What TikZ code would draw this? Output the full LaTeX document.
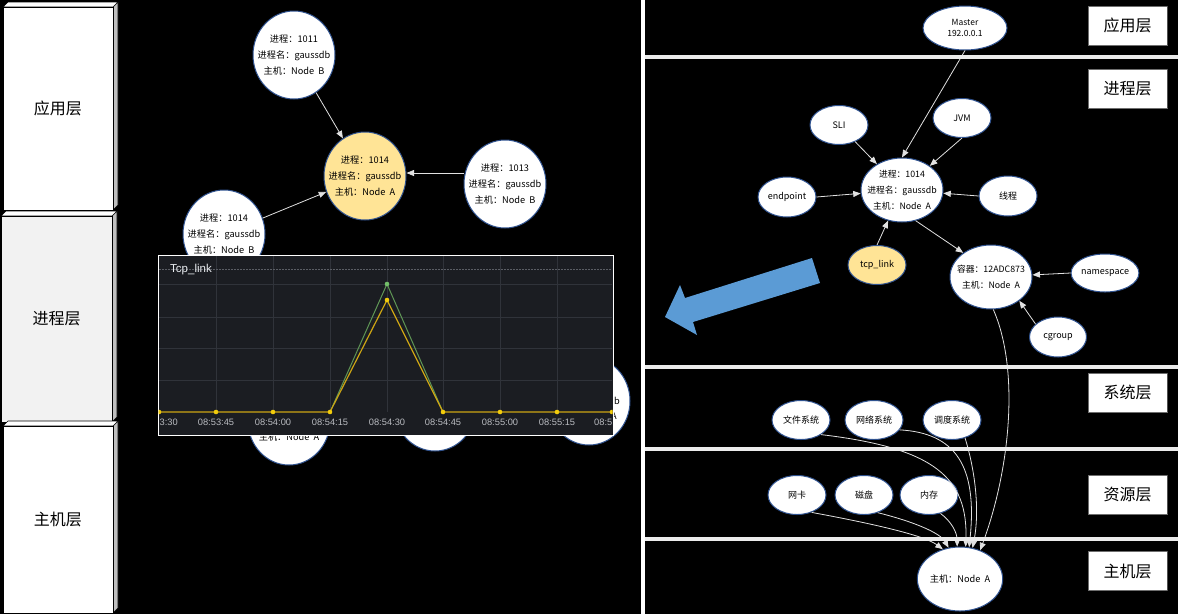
\documentclass[tikz,border=0pt]{standalone}
\usepackage{fontspec}
\setmainfont{Noto Sans CJK SC}
\newfontfamily\chartfont{Liberation Sans}
\usetikzlibrary{shapes.geometric,arrows.meta}
\definecolor{nborder}{RGB}{47,82,143}
\definecolor{nyellow}{RGB}{255,228,150}
\definecolor{sidegray}{RGB}{191,191,191}
\definecolor{frontgray}{RGB}{242,242,242}
\definecolor{edgec}{RGB}{225,225,225}
\definecolor{barc}{RGB}{235,235,235}
\definecolor{chartbg}{RGB}{27,29,34}
\definecolor{gridc}{RGB}{48,51,58}
\definecolor{dashc}{RGB}{90,93,100}
\definecolor{ylinec}{RGB}{205,165,20}
\definecolor{ydotc}{RGB}{242,204,12}
\definecolor{glinec}{RGB}{95,150,85}
\definecolor{gdotc}{RGB}{115,191,105}
\definecolor{clabelc}{RGB}{185,187,192}
\definecolor{titlec}{RGB}{235,238,242}
\definecolor{arrowblue}{RGB}{91,155,213}
\definecolor{lboxc}{RGB}{110,110,110}
\definecolor{shadowc}{RGB}{80,80,80}
\newcommand\drawlayerbox[7]{%
  \filldraw[fill=sidegray,draw=black,line width=0.6pt] (#3,#2) -- (#3+5,#2-5) -- (#3+5,#4-5) -- (#3,#4) -- cycle;
  \filldraw[fill=white,draw=black,line width=0.6pt] (#1,#2) -- (#1+5,#2-5) -- (#3+5,#2-5) -- (#3,#2) -- cycle;
  \filldraw[fill=#5,draw=black,line width=0.8pt] (#1,#2) rectangle (#3,#4);
  \node[font=\fontsize{16}{18}\selectfont] (#7) at ({(#1+#3)/2},{(#2+#4)/2}) {#6};}
\tikzset{
  lnode/.style={ellipse, draw=nborder, line width=1pt, fill=white, minimum width=82pt, minimum height=88pt, inner sep=0pt},
  ltext/.style={align=center, font=\fontsize{9.2}{16}\selectfont, text=black, inner sep=0pt},
  rnode/.style={ellipse, draw=nborder, line width=1pt, fill=white, minimum width=58pt, minimum height=39pt, inner sep=0pt, font=\fontsize{9}{10}\selectfont},
  rbig/.style={ellipse, draw=nborder, line width=1pt, fill=white, minimum width=82pt, minimum height=64pt, inner sep=0pt},
  rtext/.style={align=center, font=\fontsize{8.8}{16}\selectfont, text=black, inner sep=0pt},
  edge/.style={draw=edgec, line width=0.8pt, -{Triangle[length=7.5pt,width=6pt]}},
  lbox/.style={rectangle, fill=white, draw=lboxc, line width=0.6pt, minimum width=79pt, minimum height=39pt, inner sep=0pt, font=\fontsize{16}{18}\selectfont},
  clabel/.style={font=\chartfont\fontsize{9.3}{10}\selectfont, text=clabelc, inner sep=0pt},
}
\begin{document}
\begin{tikzpicture}[x=1pt,y=-1pt]
\useasboundingbox (0,0) rectangle (1178,614);
\fill[black] (0,0) rectangle (1178,614);

% ---------------- left layer boxes
\drawlayerbox{3}{7}{113}{210}{white}{应用层}{lb1}
\drawlayerbox{1}{216}{112}{422}{frontgray}{进程层}{lb2}
\drawlayerbox{3}{426}{113}{613}{white}{主机层}{lb3}

% ---------------- left graph
\node[lnode, label={[ltext]center:进程：1011\\进程名：gaussdb\\主机：Node~ B}] (n1011) at (294,55) {};
\node[lnode, fill=nyellow, label={[ltext]center:进程：1014\\进程名：gaussdb\\主机：Node~ A}] (yl) at (365,176) {};
\node[lnode, label={[ltext]center:进程：1014\\进程名：gaussdb\\主机：Node~ B}] (n1014b) at (224,234) {};
\node[lnode, label={[ltext]center:进程：1013\\进程名：gaussdb\\主机：Node~ B}] (n1013) at (505,184) {};
\node[lnode, label={[ltext,yshift=-16pt]center:主机：Node~ A}] (h1) at (289,421) {};
\node[lnode] (h2) at (435,407) {};
\node[lnode] (h3) at (589,401) {};
\begin{scope}
\clip (613,380) rectangle (640,430);
\node[ltext, anchor=east] (h3t) at (620,401) {db};
\node[ltext, anchor=east] (h3u) at (617,416) {A};
\end{scope}

\draw[edge] (n1011) -- (yl);
\draw[edge] (n1014b) -- (yl);
\draw[edge] ([yshift=11pt]n1013.west) -- ([yshift=3pt]yl.east);

% ---------------- chart
\filldraw[fill=chartbg, draw=white, line width=1pt] (158,255) rectangle (613,435);
\begin{scope}
\clip (158.5,255.5) rectangle (612.5,434.5);
\foreach \x in {216,273,330,387,443,500,557} \draw[gridc, line width=0.7pt] (\x,256) -- (\x,412);
\foreach \y in {284,317,348,380} \draw[gridc, line width=0.7pt] (159,\y) -- (612,\y);
\draw[dashc, line width=0.8pt, dash pattern=on 1.5pt off 1.5pt] (159,269) -- (612,269);
\draw[glinec, line width=1pt] (330,412) -- (387,284) -- (443,412);
\draw[ylinec, line width=1.2pt] (158,412) -- (330,412) -- (387,300) -- (443,412) -- (613,412);
\foreach \x in {159,216,273,330,443,500,557,612} \fill[ydotc] (\x,412) circle (2.3pt);
\fill[ydotc] (387,300) circle (2.3pt);
\fill[gdotc] (387,284) circle (2.3pt);
\foreach \x/\t in {216/08:53:45,273/08:54:00,330/08:54:15,387/08:54:30,443/08:54:45,500/08:55:00,557/08:55:15}
  \node[clabel] (tl\x) at (\x,422) {\t};
\node[clabel, anchor=west] (tlfirst) at (159.5,422) {3:30};
\node[clabel, anchor=east] (tllast) at (612.5,422) {08:5};
\end{scope}
\node[anchor=west, font=\chartfont\fontsize{11.5}{12}\selectfont, text=titlec, inner sep=0pt] (ttl) at (170,270) {Tcp\_link};

% ---------------- divider
\fill[white] (640.5,0) rectangle (644.5,614);

% ---------------- big blue arrow
\fill[arrowblue] (665,317) -- (680,285) -- (685,298) -- (812,258) -- (820,283) -- (693,322) -- (697,335) -- cycle;

% ---------------- right nodes
\node[rnode, minimum width=84pt, minimum height=44pt, align=center, font=\fontsize{8.5}{11}\selectfont] (master) at (965,28) {Master\\192.0.0.1};
\node[rnode] (sli) at (839,125) {SLI};
\node[rnode] (jvm) at (962,118) {JVM};
\node[rbig, label={[rtext]center:进程：1014\\进程名：gaussdb\\主机：Node~ A}] (c1014) at (902,190) {};
\node[rnode, minimum height=40pt] (endp) at (787,197) {endpoint};
\node[rnode, minimum height=40pt] (xc) at (1008,196) {线程};
\node[rnode, fill=nyellow] (tcp) at (877,265) {tcp\_link};
\node[rbig, label={[rtext]center:容器：12ADC873\\主机：Node~ A}] (cont) at (991,277) {};
\node[rnode, minimum width=57pt, minimum height=38pt] (ns) at (1105,273) {namespace};
\node[rnode, minimum width=57pt, minimum height=40pt] (cg) at (1058,337) {cgroup};
\node[rnode] (fs) at (801,420) {文件系统};
\node[rnode] (net) at (874,420) {网络系统};
\node[rnode] (sched) at (952,420) {调度系统};
\node[rnode] (nic) at (797,495) {网卡};
\node[rnode] (disk) at (864,495) {磁盘};
\node[rnode] (mem) at (929,495) {内存};
\node[rbig, font=\fontsize{9.2}{10}\selectfont] (hosta) at (960,579) {主机：Node~ A};

% ---------------- right edges
\draw[edge] (master.south) -- (c1014.north);
\draw[edge] (sli) -- (c1014);
\draw[edge] (jvm.south) -- (c1014);
\draw[edge] (endp.east) -- (c1014);
\draw[edge] (xc.west) -- (c1014);
\draw[edge] (tcp.north) -- (c1014);
\draw[edge] (c1014.-66) -- (cont.139);
\draw[edge] (ns.west) -- (cont);
\draw[edge] (cg.150) -- (cont.-40);
\draw[edge] (cont.-86) .. controls (1020,370) and (1010,470) .. (hosta.55);
\draw[edge] (fs.-36) .. controls (935,448) and (968,478) .. (hosta.80);
\draw[edge] (net.-21) .. controls (955,433) and (978,465) .. (hosta.74);
\draw[edge] (sched.-54) .. controls (975,470) and (980,510) .. (hosta.68);
\draw[edge] (nic.-50) .. controls (880,525) and (925,536) .. (hosta.120);
\draw[edge] (disk.-52) .. controls (915,522) and (940,533) .. (hosta.110);
\draw[edge] (mem.-58) .. controls (952,522) and (957,533) .. (hosta.95);

% ---------------- horizontal bars
\foreach \y in {55,365,447,537} \fill[barc] (645,\y) rectangle (1178,\y+4);

% ---------------- right labels
\node[lbox] (r1) at (1127.5,25.5) {应用层};
\node[lbox] (r2) at (1127.5,88.5) {进程层};
\node[lbox] (r3) at (1127.5,392.5) {系统层};
\node[lbox] (r4) at (1127.5,494.5) {资源层};
\node[lbox] (r5) at (1127.5,571) {主机层};
\foreach \r in {r1,r2,r3,r4,r5} \draw[shadowc, line width=1.5pt] (\r.north east) -- (\r.south east);
\end{tikzpicture}
\end{document}
